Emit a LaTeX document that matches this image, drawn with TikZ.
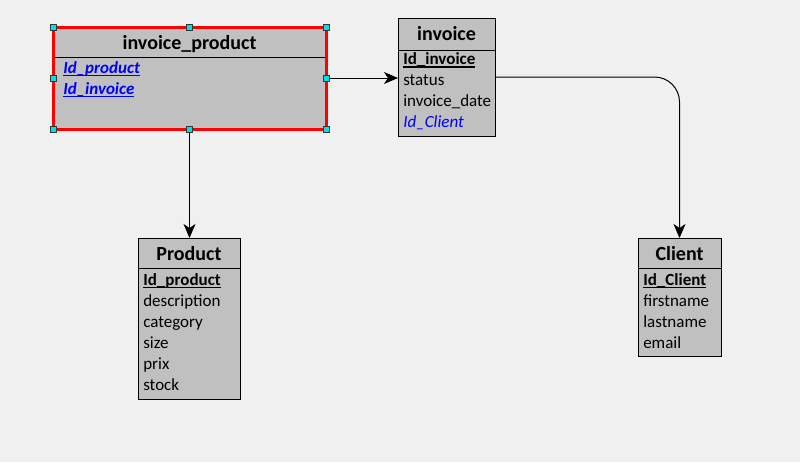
\documentclass[tikz,border=0pt]{standalone}
\usepackage{fontspec}
\setmainfont{Carlito}
\usetikzlibrary{arrows.meta}

\definecolor{canvas}{HTML}{F0F0F0}
\definecolor{boxgray}{HTML}{C0C0C0}
\definecolor{keyblue}{HTML}{0000FF}
\definecolor{selred}{HTML}{FF0000}
\definecolor{handlecyan}{HTML}{00E0E8}
\definecolor{handleedge}{HTML}{303838}

% thick underline used for key attributes
\newsavebox\ulsave
\newcommand\keyul[1]{\sbox\ulsave{#1}\rlap{\raisebox{-2.4pt}{\rule{\wd\ulsave}{1.1pt}}}\usebox\ulsave}

\tikzset{
  tbl/.style={draw=black, line width=0.75pt, fill=boxgray, inner sep=0pt, outer sep=0pt},
  seltbl/.style={draw=selred, line width=2.25pt, fill=boxgray, inner sep=0pt, outer sep=0pt},
  sepline/.style={draw=black, line width=0.75pt},
  ttl/.style={anchor=base, inner sep=0pt, font=\fontsize{15}{18}\selectfont\bfseries},
  attr/.style={anchor=base west, inner sep=0pt, font=\fontsize{12.75}{15}\selectfont},
  pk/.style={attr, font=\fontsize{12.75}{15}\selectfont\bfseries},
  fk/.style={attr, text=keyblue, font=\fontsize{12.75}{15}\selectfont\itshape},
  pfk/.style={attr, text=keyblue, font=\fontsize{12.75}{15}\selectfont\bfseries\itshape},
  conn/.style={draw=black, line width=0.75pt, -{Stealth[length=10.5pt,width=9pt,inset=3pt]}},
  handle/.style={draw=handleedge, fill=handlecyan, line width=0.75pt, minimum size=4.5pt, inner sep=0pt, outer sep=0pt},
}

\begin{document}
\begin{tikzpicture}[x=0.75pt,y=-0.75pt]
  \fill[canvas] (0,0) rectangle (800,462);
  \useasboundingbox (0,0) rectangle (800,462);

  % ---- table boxes ----
  \node[seltbl, minimum width=204.75pt, minimum height=76.5pt] (ip) at (189.5,78) {};
  \node[tbl, minimum width=72.75pt, minimum height=88.5pt] (inv) at (446.5,77) {};
  \node[tbl, minimum width=76.5pt, minimum height=120.75pt] (prod) at (189,318.5) {};
  \node[tbl, minimum width=62.25pt, minimum height=88.5pt] (cli) at (679.5,297) {};

  % header separators
  \draw[sepline] (54,57) -- (325,57);
  \draw[sepline] (inv.west |- 0,50) -- (inv.east |- 0,50);
  \draw[sepline] (prod.west |- 0,268) -- (prod.east |- 0,268);
  \draw[sepline] (cli.west |- 0,268) -- (cli.east |- 0,268);

  % ---- invoice_product ----
  \node[ttl] (ipT) at (189.5,49) {invoice\_product};
  \node[pfk] (ipA) at (63,73) {\keyul{Id\_product}};
  \node[pfk] (ipB) at (63,94) {\keyul{Id\_invoice}};

  % ---- invoice ----
  \node[ttl] (invT) at (446.5,40) {invoice};
  \node[pk] (invA) at (403,64.5) {\keyul{Id\_invoice}};
  \node[attr] (invB) at (403,85.5) {status};
  \node[attr] (invC) at (403,106.5) {invoice\_date};
  \node[fk] (invD) at (403,127.5) {Id\_Client};

  % ---- Product ----
  \node[ttl] (prodT) at (189,260) {Product};
  \node[pk] (prodA) at (143,285) {\keyul{Id\_product}};
  \node[attr] (prodB) at (143,306) {description};
  \node[attr] (prodC) at (143,327) {category};
  \node[attr] (prodD) at (143,348) {size};
  \node[attr] (prodE) at (143,369) {prix};
  \node[attr] (prodF) at (143,390) {stock};

  % ---- Client ----
  \node[ttl] (cliT) at (679.5,260) {Client};
  \node[pk] (cliA) at (643,285) {\keyul{Id\_Client}};
  \node[attr] (cliB) at (643,306) {firstname};
  \node[attr] (cliC) at (643,327) {lastname};
  \node[attr] (cliD) at (643,348) {email};

  % ---- relationships ----
  \draw[conn] (ip.east) -- (ip.east -| inv.west);
  \draw[conn] (ip.south) -- (ip.south |- prod.north);
  \draw[conn, rounded corners=18.75pt] (inv.east) -- (inv.east -| cli.north) -- (cli.north);

  % ---- selection handles ----
  \foreach \a in {north west,north,north east,west,east,south west,south,south east}
    \node[handle] (h-\a) at (ip.\a) {};
\end{tikzpicture}
\end{document}
